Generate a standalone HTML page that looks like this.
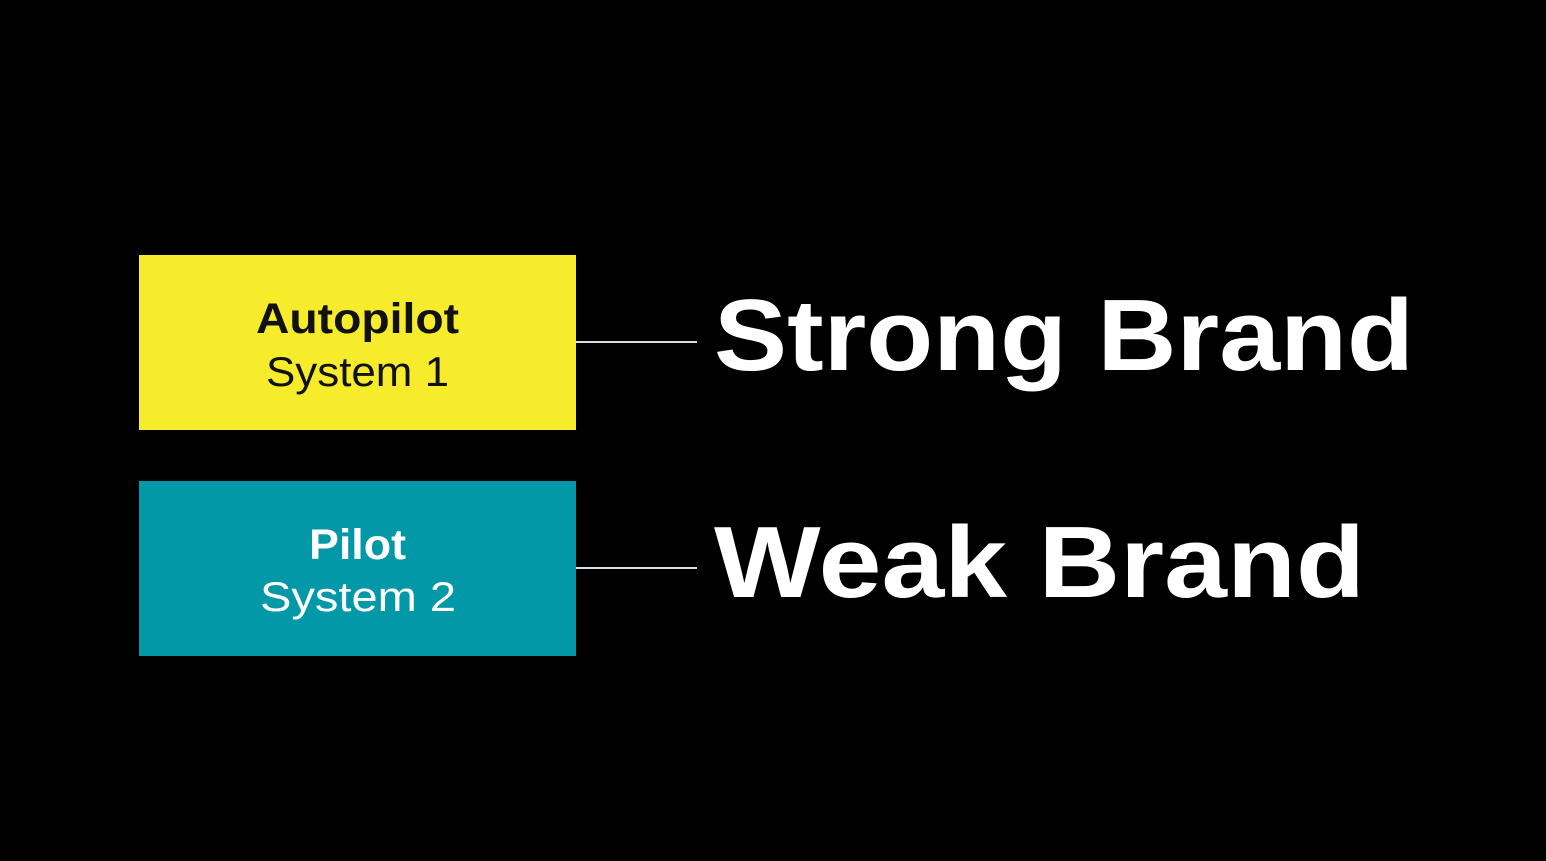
<!DOCTYPE html>
<html><head><meta charset="utf-8"><style>html,body{margin:0;padding:0;background:#000;}svg{display:block}</style></head>
<body>
<svg width="1546" height="861" viewBox="0 0 1546 861" xmlns="http://www.w3.org/2000/svg">
<rect width="1546" height="861" fill="#000"/>
<rect x="139" y="255" width="437" height="175" fill="#F6EC2C"/>
<rect x="139" y="481" width="437" height="175" fill="#0398A8"/>
<line x1="576" y1="342" x2="697" y2="342" stroke="#ddd" stroke-width="2"/>
<line x1="576" y1="568" x2="697" y2="568" stroke="#ddd" stroke-width="2"/>
<g font-family="Liberation Sans, sans-serif">
<text x="256" y="333" font-size="43" font-weight="bold" fill="#111" textLength="203" lengthAdjust="spacingAndGlyphs">Autopilot</text>
<text x="266" y="386" font-size="42" fill="#111" textLength="183" lengthAdjust="spacingAndGlyphs">System 1</text>
<text x="309" y="559" font-size="43" font-weight="bold" fill="#fff" textLength="97" lengthAdjust="spacingAndGlyphs">Pilot</text>
<text x="260" y="611" font-size="42" fill="#fff" textLength="196" lengthAdjust="spacingAndGlyphs">System 2</text>
<text x="714" y="370" font-size="101" font-weight="bold" fill="#fff" textLength="700" lengthAdjust="spacingAndGlyphs">Strong Brand</text>
<text x="714" y="597" font-size="101" font-weight="bold" fill="#fff" textLength="651" lengthAdjust="spacingAndGlyphs">Weak Brand</text>
</g>
</svg>
</body></html>
